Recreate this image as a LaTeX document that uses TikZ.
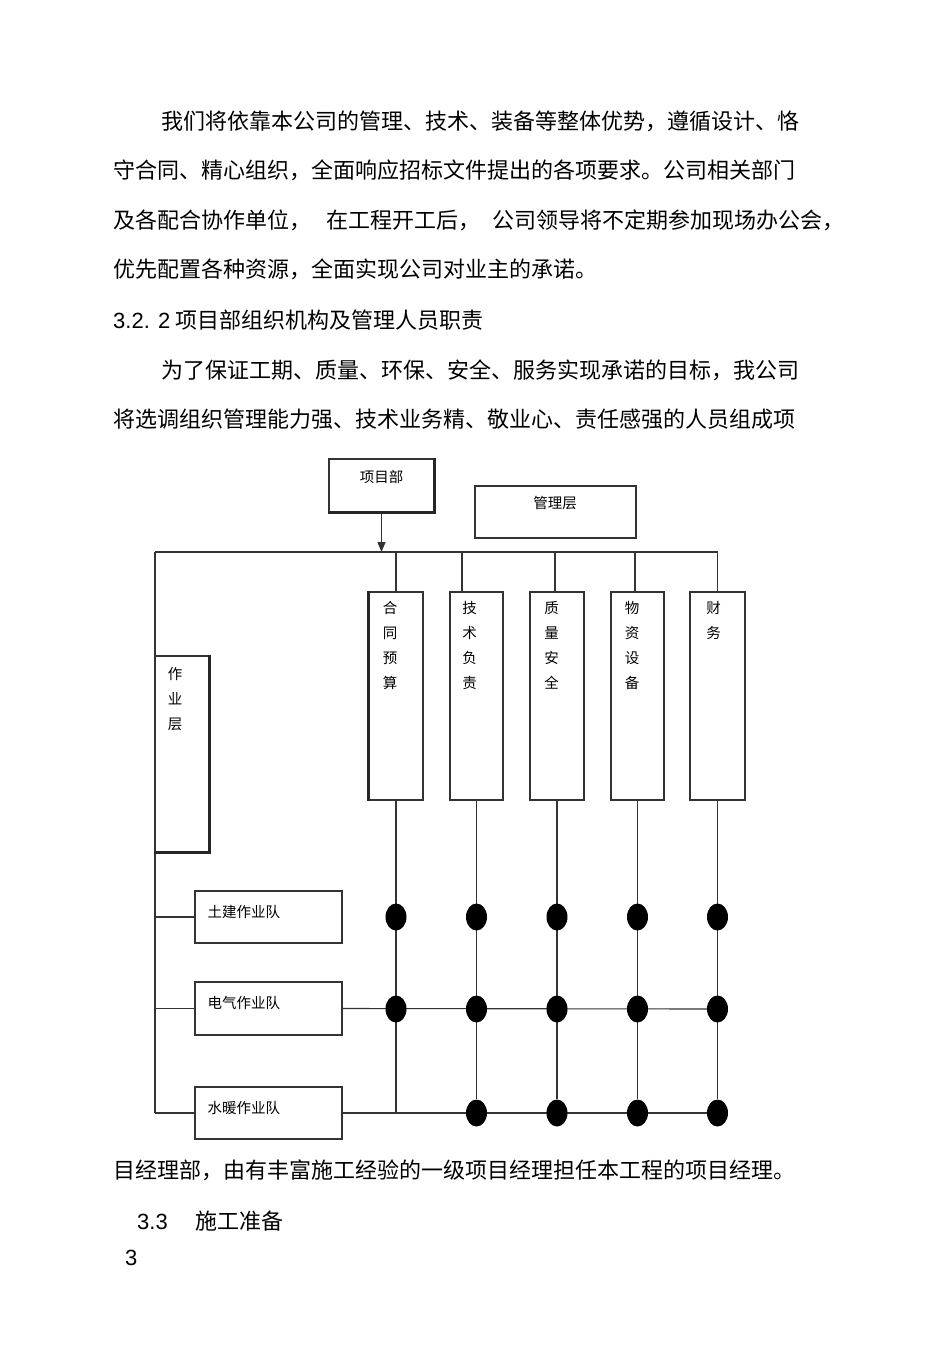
\documentclass[tikz,border=0pt]{standalone}
\usepackage{fontspec}
\setmainfont{Liberation Sans}
\newfontfamily\cjk{Noto Sans CJK SC}
\usetikzlibrary{arrows.meta,shapes.geometric}
\pgfdeclarelayer{bg}
\pgfsetlayers{bg,main}
\tikzset{
  ln/.style={line width=1.1pt, draw=black!80},
  boxn/.style={draw=black!80, line width=1.1pt, rectangle, inner sep=0pt, fill=white},
  thick edge/.style={line width=2.2pt, draw=black!85},
  para/.style={inner sep=0pt, anchor=base west, font=\fontsize{22}{26}\selectfont\cjk},
  lbl/.style={inner sep=0pt, anchor=base west, font=\fontsize{14.5}{17}\selectfont\cjk},
  vlbl/.style={inner sep=0pt, anchor=north, align=center, font=\fontsize{14.5}{25}\selectfont\cjk},
  dot/.style={ellipse, fill=black, inner sep=0pt, minimum width=21pt, minimum height=27pt},
}
\begin{document}
\begin{tikzpicture}[x=1pt,y=-1pt]
\useasboundingbox (0,0) rectangle (950,1345);
\begin{pgfonlayer}{bg}
\fill[white] (0,0) rectangle (950,1345);
\end{pgfonlayer}

% ---------- running text ----------
\node[para] (l1) at (161,129) {我们将依靠本公司的管理、技术、装备等整体优势，遵循设计、恪};
\node[para] (l2) at (113,178) {守合同、精心组织，全面响应招标文件提出的各项要求。公司相关部门};
\node[para] (l3) at (113,228) {及各配合协作单位，\hspace{15pt}在工程开工后，\hspace{12pt}公司领导将不定期参加现场办公会，};
\node[para] (l4) at (113,277) {优先配置各种资源，全面实现公司对业主的承诺。};
\node[para] (h1) at (113,328) {{\rmfamily 3.2. 2} 项目部组织机构及管理人员职责};
\node[para] (l5) at (161,378) {为了保证工期、质量、环保、安全、服务实现承诺的目标，我公司};
\node[para] (l6) at (113,427) {将选调组织管理能力强、技术业务精、敬业心、责任感强的人员组成项};
\node[para] (l7) at (113,1178) {目经理部，由有丰富施工经验的一级项目经理担任本工程的项目经理。};
\node[para] (h2) at (137,1229) {{\rmfamily 3.3}\hspace{28pt}施工准备};
\node[para] (pg) at (125,1265) {\rmfamily 3};

% ---------- boxes ----------
\node[boxn, minimum width=105pt, minimum height=53pt] (xmb) at (381.5,485.5) {};
\node[lbl, anchor=base] (xmbt) at (381.5,482.5) {项目部};
\draw[thick edge] (xmb.north east) -- (xmb.south east) -- (xmb.south west);

\node[boxn, minimum width=161pt, minimum height=52pt] (glc) at (555.5,512) {};
\node[lbl, anchor=base] (glct) at (555,508.5) {管理层};

\node[boxn, minimum width=54pt, minimum height=208pt] (ht) at (396,696) {};
\draw[thick edge] (ht.north west) -- (ht.south west);
\node[boxn, minimum width=53pt, minimum height=208pt] (js) at (476.5,696) {};
\node[boxn, minimum width=54pt, minimum height=208pt] (zl) at (557,696) {};
\node[boxn, minimum width=53pt, minimum height=208pt] (wz) at (637.5,696) {};
\node[boxn, minimum width=55pt, minimum height=208pt] (cw) at (717.5,696) {};
\node[vlbl] (htt) at (390,601.5) {合\\同\\预\\算};
\node[vlbl] (jst) at (469.5,601.5) {技\\术\\负\\责};
\node[vlbl] (zlt) at (551.5,601.5) {质\\量\\安\\全};
\node[vlbl] (wzt) at (632,601.5) {物\\资\\设\\备};
\node[vlbl] (cwt) at (713.5,601.5) {财\\务};

\node[boxn, minimum width=54pt, minimum height=196pt] (zyc) at (182,754) {};
\draw[thick edge] (zyc.north east) -- (zyc.south east) -- (zyc.south west);
\node[vlbl] (zyct) at (175,667.5) {作\\业\\层};

\node[boxn, minimum width=147pt, minimum height=52pt] (tj) at (268.5,917) {};
\node[boxn, minimum width=147pt, minimum height=53pt] (dq) at (268.5,1008.5) {};
\node[boxn, minimum width=147pt, minimum height=52pt] (sn) at (268.5,1113) {};
\node[lbl] (tjt) at (207.5,917.5) {土建作业队};
\node[lbl] (dqt) at (207.5,1008.5) {电气作业队};
\node[lbl] (snt) at (207.5,1113.5) {水暖作业队};

% ---------- dots ----------
\node[dot] (d11) at (396,917) {};
\node[dot] (d12) at (476.5,917) {};
\node[dot] (d13) at (557,917) {};
\node[dot] (d14) at (637.5,917) {};
\node[dot] (d15) at (717.5,917) {};
\node[dot] (d21) at (396,1009) {};
\node[dot] (d22) at (476.5,1009) {};
\node[dot] (d23) at (557,1009) {};
\node[dot] (d24) at (637.5,1009) {};
\node[dot] (d25) at (717.5,1009) {};
\node[dot] (d32) at (476.5,1113) {};
\node[dot] (d33) at (557,1113) {};
\node[dot] (d34) at (637.5,1113) {};
\node[dot] (d35) at (717.5,1113) {};

% ---------- connectors ----------
\coordinate (busL) at (155,552);
\coordinate (busR) at (717.5,552);
\coordinate (busB) at (155,1113);
\coordinate (t1) at (396,552);
\coordinate (t2) at (462,552);
\coordinate (t3) at (555,552);
\coordinate (t4) at (635,552);

\begin{pgfonlayer}{bg}
\draw[ln] (busL) -- (busR);
\draw[ln] (busL) -- (busB);
\draw[ln] (t1) -- (t1 |- ht.north);
\draw[ln] (t2) -- (t2 |- js.north);
\draw[ln] (t3) -- (t3 |- zl.north);
\draw[ln] (t4) -- (t4 |- wz.north);
\draw[ln] (busR) -- (cw.north);
\draw[ln] (busL |- tj.west) -- (tj.west);
\draw[ln] (busL |- dq.west) -- (dq.west);
\draw[ln] (busL |- sn.west) -- (sn.west);
\draw[ln] (ht.south) -- (ht.south |- sn.east);
\draw[ln] (js.south) -- (d32);
\draw[ln] (zl.south) -- (d33);
\draw[ln] (wz.south) -- (d34);
\draw[ln] (cw.south) -- (d35);
\draw[ln] (dq.east) -- (d25);
\draw[ln] (sn.east) -- (d35);
\end{pgfonlayer}
\draw[ln, -{Triangle[length=10pt,width=8pt]}] (xmb.south) -- (xmb.south |- busL);
\end{tikzpicture}
\end{document}
